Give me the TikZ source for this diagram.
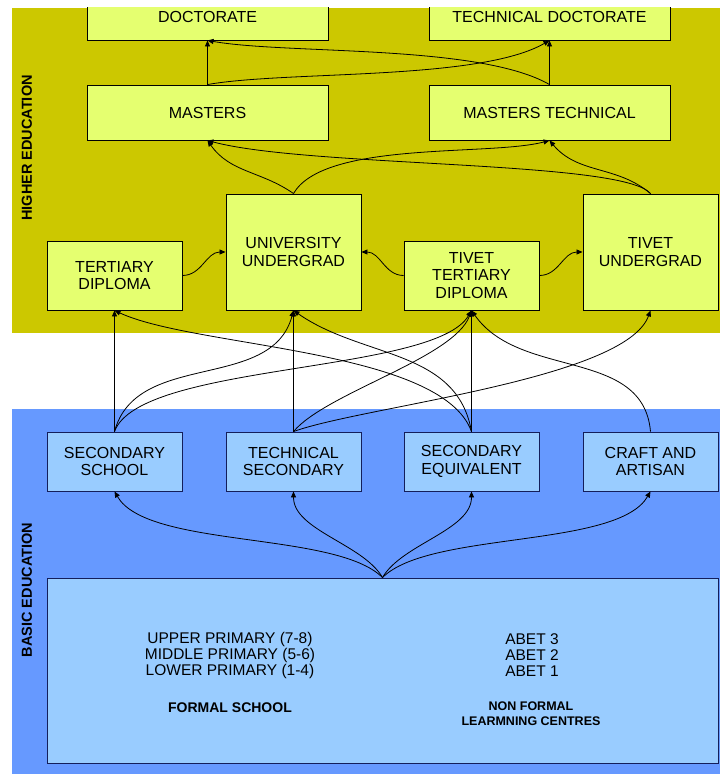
\documentclass[tikz,border=0pt]{standalone}
\usepackage{fontspec}
\setmainfont{Liberation Sans}
\usetikzlibrary{arrows.meta}
\definecolor{bandyellow}{RGB}{204,200,0}
\definecolor{boxlime}{RGB}{229,255,112}
\definecolor{bandblue}{RGB}{102,153,255}
\definecolor{boxblue}{RGB}{153,204,255}
\definecolor{boxnavy}{RGB}{20,30,90}
\begin{document}
\begin{tikzpicture}[x=1pt,y=1pt,
    hibox/.style={draw=black,fill=boxlime,line width=0.9pt,align=center,inner sep=0pt,
      font=\fontsize{16}{17.5}\selectfont},
    lobox/.style={draw=boxnavy,fill=boxblue,line width=0.9pt,align=center,inner sep=0pt,
      font=\fontsize{16}{17.5}\selectfont},
    band/.style={font=\bfseries\fontsize{14.5}{15}\selectfont,rotate=90},
    conn/.style={line width=0.8pt,-{Triangle[length=6pt,width=5pt]}}]
        \useasboundingbox (0,0) rectangle (720,774);
        \begin{scope}
        \clip (0,0) rectangle (720,766);
        \fill[bandyellow] (12,441) rectangle (720,766);
        \fill[bandblue] (12,0) rectangle (720,365);
        \node[band] (HE) at (27,626) {HIGHER EDUCATION};
        \node[band] (BE) at (27,184) {BASIC EDUCATION};
        \node[hibox,minimum width=241,minimum height=45] (D0) at (207.5,756.5) {DOCTORATE};
        \node[hibox,minimum width=241,minimum height=45] (D1) at (549.5,756.5) {TECHNICAL DOCTORATE};
        \node[hibox,minimum width=241,minimum height=55] (M0) at (207.5,661.5) {MASTERS};
        \node[hibox,minimum width=241,minimum height=55] (M1) at (549.5,661.5) {MASTERS TECHNICAL};
        \node[hibox,minimum width=135,minimum height=69] (U0) at (114.5,498.5) {TERTIARY\\DIPLOMA};
        \node[hibox,minimum width=135,minimum height=116] (U1) at (293.5,522) {UNIVERSITY\\UNDERGRAD};
        \node[hibox,minimum width=135,minimum height=69] (U2) at (471.5,498.5) {TIVET\\TERTIARY\\DIPLOMA};
        \node[hibox,minimum width=135,minimum height=116] (U3) at (650.5,522) {TIVET\\UNDERGRAD};
        \node[lobox,minimum width=135,minimum height=59] (S0) at (114.5,312.5) {SECONDARY\\SCHOOL};
        \node[lobox,minimum width=135,minimum height=59] (S1) at (293.5,312.5) {TECHNICAL\\SECONDARY};
        \node[lobox,minimum width=135,minimum height=59] (S2) at (471.5,312.5) {SECONDARY\\EQUIVALENT};
        \node[lobox,minimum width=135,minimum height=59] (S3) at (650.5,312.5) {CRAFT AND\\ARTISAN};
        \node[lobox,minimum width=671,minimum height=185] (P0) at (382.5,103.5) {};
        \node[align=center,font=\fontsize{15.5}{16}\selectfont] (P1) at (230,119)
          {UPPER PRIMARY (7-8)\\MIDDLE PRIMARY (5-6)\\LOWER PRIMARY (1-4)};
        \node[align=center,font=\fontsize{15.5}{16}\selectfont] (P2) at (532,119)
          {ABET 3\\ABET 2\\ABET 1};
        \node[font=\bfseries\fontsize{14}{15}\selectfont] (P3) at (230,66) {FORMAL SCHOOL};
        \node[align=center,font=\bfseries\fontsize{12.5}{15}\selectfont] (P4) at (531,60.5)
          {NON FORMAL\\LEARMNING CENTRES};
        \path[conn]
        (M0.north) edge (D0.south)
        (M0.north) edge[out=10,in=-150,looseness=0.6] (D1.south)
        (M1.north) edge (D1.south)
        (M1.north) edge[out=150,in=-10,looseness=0.6] (D0.south)
        (U1.north) edge[out=145,in=-55] (M0.south)
        (U1.north) edge[out=60,in=-165,looseness=0.6] (M1.south)
        (U3.north) edge[out=140,in=-50] (M1.south)
        (U3.north) edge[out=130,in=-15,out looseness=0.25,in looseness=0.6] (M0.south)
        (U0.east) edge[out=0,in=180] (U1.west)
        (U2.west) edge[out=180,in=0] (U1.east)
        (U2.east) edge[out=0,in=180] (U3.west)
        (S0.north) edge (U0.south)
        (S0.north) edge[out=75,in=-105] (U1.south)
        (S0.north) edge[out=70,in=-120,looseness=0.5] (U2.south)
        (S1.north) edge (U1.south)
        (S1.north) edge[out=50,in=-110,looseness=0.6] (U2.south)
        (S1.north) edge[out=20,in=-110,looseness=0.5] (U3.south)
        (S2.north) edge (U2.south)
        (S2.north) edge[out=100,in=-35] (U1.south)
        (S2.north) edge[out=110,in=-25,looseness=0.6] (U0.south)
        (S3.north) edge[out=95,in=-55] (U2.south)
        (P0.north) edge[out=135,in=-60,looseness=0.6] (S0.south)
        (P0.north) edge[out=120,in=-90,looseness=0.8] (S1.south)
        (P0.north) edge[out=60,in=-90,looseness=0.8] (S2.south)
        (P0.north) edge[out=45,in=-120,looseness=0.6] (S3.south);
        \end{scope}
    \end{tikzpicture}
\end{document}
